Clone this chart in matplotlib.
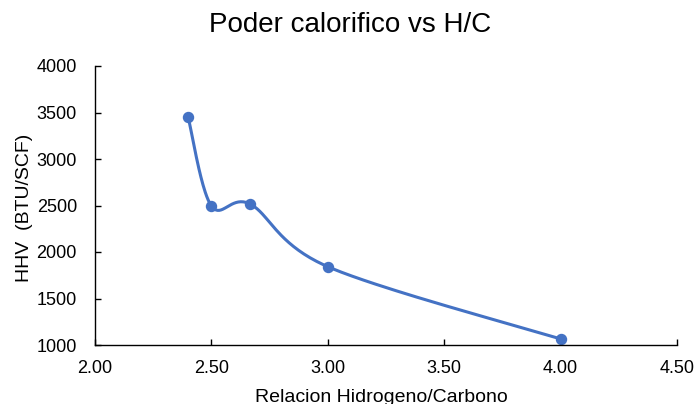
import numpy as np
import matplotlib as mpl
mpl.use('Agg')
import matplotlib.pyplot as plt

# ----- data -----
hc_ratio = [2.40, 2.50, 2.667, 3.00, 4.00]
hhv = [3450, 2495, 2515, 1842, 1065]
x_ticks = [2.00, 2.50, 3.00, 3.50, 4.00, 4.50]
y_ticks = [1000, 1500, 2000, 2500, 3000, 3500, 4000]

mpl.rc('font', family=['Liberation Sans', 'DejaVu Sans'])
mpl.rc('xtick', direction='in', labelsize=13)
mpl.rc('ytick', direction='in', labelsize=13)
mpl.rc('xtick.major', size=4, width=1.0, pad=11)
mpl.rc('ytick.major', size=4, width=1.0, pad=13)

blue = '#4472C4'

fig = plt.figure(figsize=(6.96, 4.04), dpi=100)
ax = fig.add_axes([95/696, 59/404, 582/696, 279/404])

ax.set_xlim(2.0, 4.5)
ax.set_ylim(1000, 4000)


def excel_smooth(x, y, n=40):
    # Excel style smoothed line: cubic bezier with control points at 1/6
    # of the neighbour chord, computed in display space
    pts = ax.transData.transform(np.column_stack([x, y]))
    m = len(pts)
    out = []
    for i in range(m - 1):
        p0 = pts[max(i - 1, 0)]
        p1 = pts[i]
        p2 = pts[i + 1]
        p3 = pts[min(i + 2, m - 1)]
        c1 = p1 + (p2 - p0) / 6.
        c2 = p2 - (p3 - p1) / 6.
        t = np.linspace(0, 1, n)[:, None]
        seg = ((1-t)**3)*p1 + 3*((1-t)**2)*t*c1 + 3*(1-t)*(t**2)*c2 + (t**3)*p2
        out.append(seg if i == 0 else seg[1:])
    out = np.vstack(out)
    return ax.transData.inverted().transform(out)


curve = excel_smooth(hc_ratio, hhv)
ax.plot(curve[:, 0], curve[:, 1], color=blue, lw=2.2, solid_capstyle='round')
ax.plot(hc_ratio, hhv, 'o', color=blue, ms=7.2, mec=blue)

ax.set_xticks(x_ticks)
ax.set_xticklabels([f'{v:.2f}' for v in x_ticks])
ax.set_yticks(y_ticks)
ax.set_yticklabels([str(v) for v in y_ticks])

for s in ['top', 'right']:
    ax.spines[s].set_visible(False)
for s in ['left', 'bottom']:
    ax.spines[s].set_linewidth(1.0)

fig.text(381/696, 1 - 397/404, 'Relacion Hidrogeno/Carbono', fontsize=14,
         ha='center', va='center')
fig.text(25/696, 1 - 208/404, 'HHV  (BTU/SCF)', fontsize=14,
         ha='center', va='center', rotation=90)
fig.text(350/696, 1 - 25/404, 'Poder calorifico vs H/C', fontsize=20,
         ha='center', va='center')

plt.savefig('out.png', dpi=100)
